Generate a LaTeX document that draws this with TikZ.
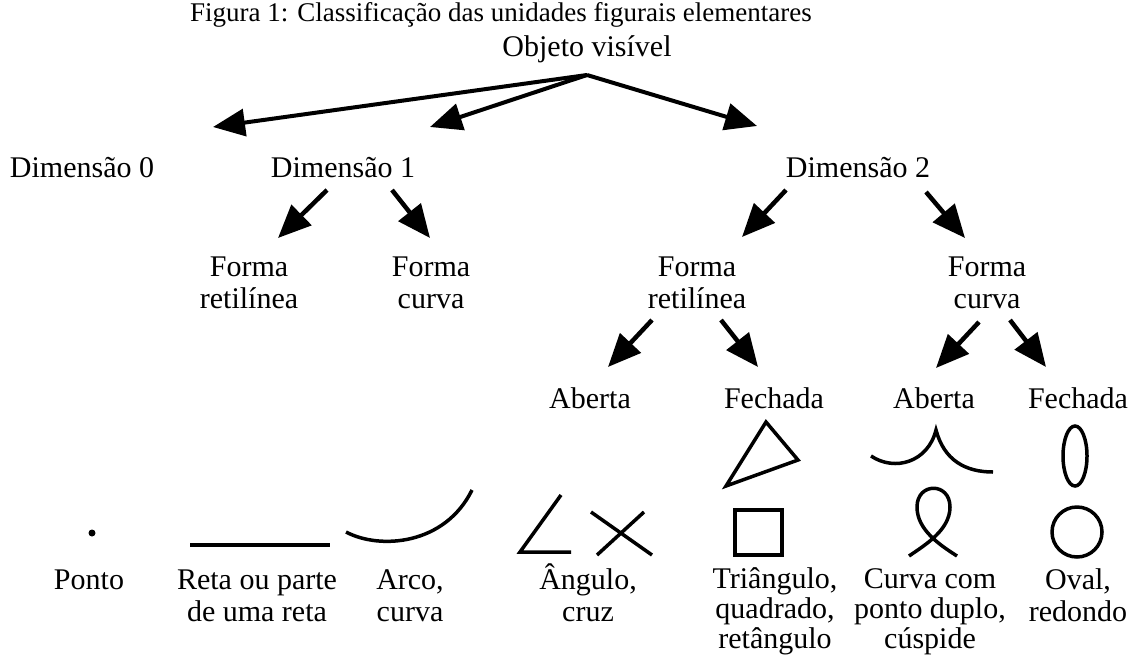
\documentclass[tikz,border=0pt]{standalone}
\usepackage{fontspec}
\setmainfont{Liberation Serif}
\usetikzlibrary{arrows.meta}
\begin{document}
\begin{tikzpicture}[x=1pt,y=-1pt,
  lbl/.style={font=\fontsize{30}{32}\selectfont, align=center, inner sep=0pt, anchor=base},
  lbltight/.style={lbl, font=\fontsize{30}{30}\selectfont},
  ttl/.style={font=\fontsize{27}{29}\selectfont, inner sep=0pt, anchor=base},
  arr/.style={line width=4pt, -{Triangle[length=32pt,width=27pt]}},
  arrb/.style={line width=4.5pt, -{Triangle[length=33pt,width=28pt]}},
  shp/.style={line width=3.5pt, line join=miter, line cap=butt}
]
\path[use as bounding box] (0,0) rectangle (1134,656);

% texts (anchor=base is the baseline of the last line)
\node[ttl] (title) at (501,21) {Figura 1: Classificação das unidades figurais elementares};
\node[lbl] (obj) at (587,56) {Objeto visível};
\node[lbl] (d0) at (82,177) {Dimensão 0};
\node[lbl] (d1) at (343,177) {Dimensão 1};
\node[lbl] (d2) at (858,177) {Dimensão 2};
\node[lbl] (d1r) at (249,308) {Forma\\retilínea};
\node[lbl] (d1c) at (431,308) {Forma\\curva};
\node[lbl] (d2r) at (697,308) {Forma\\retilínea};
\node[lbl] (d2c) at (987,308) {Forma\\curva};
\node[lbl] (ab1) at (590,408) {Aberta};
\node[lbl] (fe1) at (774,408) {Fechada};
\node[lbl] (ab2) at (934,408) {Aberta};
\node[lbl] (fe2) at (1078,408) {Fechada};
\node[lbl] (ponto) at (89,589) {Ponto};
\node[lbl] (reta) at (257,621) {Reta ou parte\\de uma reta};
\node[lbl] (arco) at (410,621) {Arco,\\curva};
\node[lbl] (ang) at (588,621) {Ângulo,\\cruz};
\node[lbltight] (tri) at (775,648) {Triângulo,\\quadrado,\\retângulo};
\node[lbltight] (cur) at (930,648) {Curva com\\ponto duplo,\\cúspide};
\node[lbl] (oval) at (1078,621) {Oval,\\redondo};

% arrow end points
\coordinate (apex) at (587,75);
\coordinate (t0) at (213,127);
\coordinate (t1) at (430,127);
\coordinate (t2) at (757,126);
\coordinate (s1a) at (327,190); \coordinate (e1a) at (278,238);
\coordinate (s1b) at (392,190); \coordinate (e1b) at (430,238);
\coordinate (s2a) at (786,190); \coordinate (e2a) at (742,237);
\coordinate (s2b) at (926,192); \coordinate (e2b) at (965,238);
\coordinate (s3a) at (652,320); \coordinate (e3a) at (608,367);
\coordinate (s3b) at (721,320); \coordinate (e3b) at (758,367);
\coordinate (s4a) at (979,322); \coordinate (e4a) at (936,368);
\coordinate (s4b) at (1010,320); \coordinate (e4b) at (1046,367);

\draw[arr] (apex) -- (t0);
\draw[arr] (apex) -- (t1);
\draw[arr] (apex) -- (t2);
\draw[arrb] (s1a) -- (e1a);
\draw[arrb] (s1b) -- (e1b);
\draw[arrb] (s2a) -- (e2a);
\draw[arrb] (s2b) -- (e2b);
\draw[arrb] (s3a) -- (e3a);
\draw[arrb] (s3b) -- (e3b);
\draw[arrb] (s4a) -- (e4a);
\draw[arrb] (s4b) -- (e4b);

% figures
\fill (92,533) circle (3.5);
\draw[line width=4.5pt] (190,545) -- (330,545);
\draw[shp] (346,532) .. controls (380,550) and (445,545) .. (472,490);
\draw[shp] (561,495) -- (520,552) -- (571,552);
\draw[shp] (591,512) -- (652,555);
\draw[shp] (644,512) -- (597,555);
\draw[shp] (766,422) -- (798,460) -- (726,486) -- cycle;
\draw[shp] (735,510) rectangle (782,555);
\draw[shp] (871,456) .. controls (895,472) and (928,462) .. (936,430)
           .. controls (944,460) and (965,472) .. (993,472);
\draw[shp] (909,556) .. controls (925,545) and (950,530) .. (950,507)
           .. controls (950,482) and (917,482) .. (917,507)
           .. controls (917,530) and (940,545) .. (957,556);
\draw[shp] (1075,456) ellipse (12 and 30);
\draw[shp] (1077,532) circle (25);
\end{tikzpicture}
\end{document}
